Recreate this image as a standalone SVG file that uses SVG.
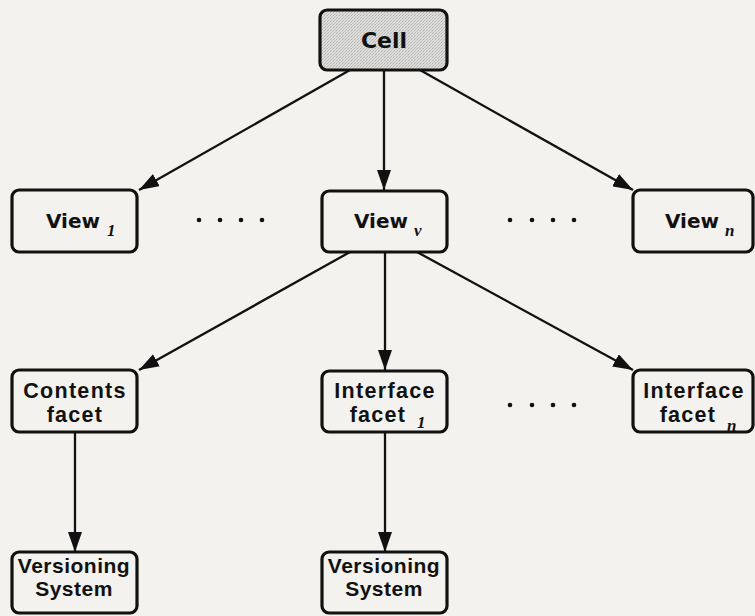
<svg xmlns="http://www.w3.org/2000/svg" width="755" height="616" viewBox="0 0 755 616">
  <defs>
    <marker id="arrow" viewBox="0 0 20 14" refX="20" refY="7" markerWidth="20" markerHeight="14" markerUnits="userSpaceOnUse" orient="auto">
      <path d="M0,0 L20,7 L0,14 Z" fill="#111"/>
    </marker>
    <pattern id="dither" width="3" height="3" patternUnits="userSpaceOnUse">
      <rect width="3" height="3" fill="#dcdcda"/>
      <rect x="0" y="0" width="1" height="1" fill="#b4b4b2"/>
      <rect x="2" y="1" width="1" height="1" fill="#c6c6c4"/>
      <rect x="1" y="2" width="1" height="1" fill="#bdbdbb"/>
    </pattern>
  </defs>
  <style>
    .box { fill: #f3f2ee; stroke: #111; stroke-width: 3.2; }
    .shaded { fill: url(#dither); }
    .edge { stroke: #111; stroke-width: 2.3; fill: none; marker-end: url(#arrow); }
    .title { font-family: "Liberation Sans", Arial, sans-serif; font-weight: bold; fill: #111; text-anchor: middle; }
    .heavy { font-family: "DejaVu Sans", "Liberation Sans", sans-serif; font-weight: bold; fill: #111; text-anchor: middle; }
    .big { font-size: 22px; }
    .mid { font-size: 20px; }
    .lbl { font-size: 21.5px; letter-spacing: 1.3px; }
    .tight { font-size: 21px; letter-spacing: 0.5px; }
    .sub { font-family: "Liberation Serif", "Times New Roman", serif; font-style: italic; font-weight: bold; font-size: 17px; fill: #111; }
    .dots { fill: #111; }
  </style>

  <rect width="755" height="616" fill="#f3f2ee"/>

  <g id="connectors">
    <line class="edge" x1="350" y1="70" x2="139" y2="190"/>
    <line class="edge" x1="384" y1="70" x2="384" y2="190"/>
    <line class="edge" x1="420" y1="70" x2="633" y2="190"/>
    <line class="edge" x1="350" y1="252" x2="139" y2="370"/>
    <line class="edge" x1="385" y1="252" x2="385" y2="370"/>
    <line class="edge" x1="417" y1="252" x2="633" y2="370"/>
    <line class="edge" x1="75" y1="432" x2="75" y2="552"/>
    <line class="edge" x1="385" y1="432" x2="385" y2="552"/>
  </g>

  <g id="cell">
    <rect class="box shaded" x="320" y="10" width="127" height="60" rx="7"/>
    <text class="heavy big" x="384" y="48">Cell</text>
  </g>

  <g id="view-1">
    <rect class="box" x="12" y="190" width="125" height="62" rx="7"/>
    <text class="heavy mid" x="73" y="228">View</text>
    <text class="sub" x="107" y="236">1</text>
  </g>

  <g id="view-v">
    <rect class="box" x="322" y="191" width="125" height="61" rx="7"/>
    <text class="heavy mid" x="381" y="228">View</text>
    <text class="sub" x="414" y="236">v</text>
  </g>

  <g id="view-n">
    <rect class="box" x="633" y="190" width="120" height="62" rx="7"/>
    <text class="heavy mid" x="692" y="228">View</text>
    <text class="sub" x="725" y="236">n</text>
  </g>

  <g id="dots-views-left" class="dots">
    <circle cx="199" cy="220" r="2.3"/>
    <circle cx="220" cy="220" r="2.3"/>
    <circle cx="241" cy="220" r="2.3"/>
    <circle cx="262" cy="220" r="2.3"/>
  </g>
  <g id="dots-views-right" class="dots">
    <circle cx="510" cy="220" r="2.3"/>
    <circle cx="532" cy="220" r="2.3"/>
    <circle cx="553" cy="220" r="2.3"/>
    <circle cx="574" cy="220" r="2.3"/>
  </g>

  <g id="contents-facet">
    <rect class="box" x="12" y="370" width="125" height="62" rx="7"/>
    <text class="title lbl" x="75" y="398">Contents</text>
    <text class="title lbl" x="75" y="422">facet</text>
  </g>

  <g id="interface-facet-1">
    <rect class="box" x="322" y="371" width="125" height="61" rx="7"/>
    <text class="title lbl" x="385" y="398">Interface</text>
    <text class="title lbl" x="378" y="422">facet</text>
    <text class="sub" x="417" y="428">1</text>
  </g>

  <g id="dots-facets" class="dots">
    <circle cx="510" cy="405" r="2.3"/>
    <circle cx="532" cy="405" r="2.3"/>
    <circle cx="553" cy="405" r="2.3"/>
    <circle cx="574" cy="405" r="2.3"/>
  </g>

  <g id="interface-facet-n">
    <rect class="box" x="633" y="370" width="120" height="62" rx="7"/>
    <text class="title lbl" x="694" y="398">Interface</text>
    <text class="title lbl" x="688" y="422">facet</text>
    <text class="sub" x="727" y="431">n</text>
  </g>

  <g id="versioning-1">
    <rect class="box" x="12" y="552" width="125" height="61" rx="7"/>
    <text class="title tight" x="74" y="573">Versioning</text>
    <text class="title tight" x="74" y="596">System</text>
  </g>

  <g id="versioning-2">
    <rect class="box" x="322" y="552" width="125" height="61" rx="7"/>
    <text class="title tight" x="384" y="573">Versioning</text>
    <text class="title tight" x="384" y="596">System</text>
  </g>
</svg>
